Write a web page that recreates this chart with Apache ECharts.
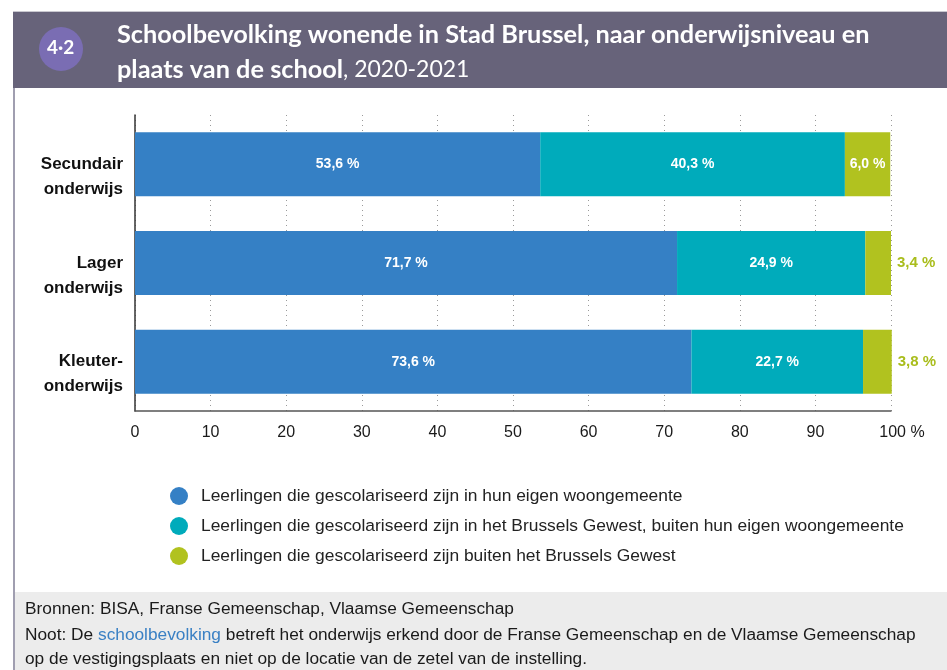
<!DOCTYPE html>
<html>
<head>
<meta charset="utf-8">
<script src="https://cdn.jsdelivr.net/npm/echarts@6/dist/echarts.min.js"></script>
<style>
  html, body { margin: 0; padding: 0; background: #fff; }
  #main { width: 947px; height: 670px; }
</style>
</head>
<body>
<div id="main"></div>
<script>
// niveaus (van boven naar onder)
var categories = ['Secundair\nonderwijs', 'Lager\nonderwijs', 'Kleuter-\nonderwijs'];
var seriesNames = [
    'Leerlingen die gescolariseerd zijn in hun eigen woongemeente',
    'Leerlingen die gescolariseerd zijn in het Brussels Gewest, buiten hun eigen woongemeente',
    'Leerlingen die gescolariseerd zijn buiten het Brussels Gewest'
];
var eigenGemeente = [53.6, 71.7, 73.6];
var brusselsGewest = [40.3, 24.9, 22.7];
var buitenGewest = [6.0, 3.4, 3.8];
var xTicks = [0, 10, 20, 30, 40, 50, 60, 70, 80, 90, 100];

var kleuren = ['#3580c5', '#00abbb', '#b1c21f'];
var groen = '#a9bd1c';
var fontTxt = '"Liberation Sans", Arial, sans-serif';
var fontKop = 'Lato, "Noto Sans", sans-serif';

var fmt = function (v) {
    return v.toFixed(1).replace('.', ',') + ' %';
};

// kleine waarden krijgen het label buiten de balk
var maakData = function (values) {
    return values.map(function (v) {
        if (v < 5) {
            return {
                value: v,
                label: { position: 'right', distance: 6, color: groen, fontSize: 15 }
            };
        }
        return v;
    });
};

var maakSerie = function (idx, values) {
    return {
        name: seriesNames[idx],
        type: 'bar',
        stack: 'totaal',
        barWidth: 64,
        clip: false,
        itemStyle: { color: kleuren[idx] },
        label: {
            show: true,
            position: 'inside',
            color: '#fff',
            fontFamily: fontTxt,
            fontWeight: 'bold',
            fontSize: 14,
            formatter: function (p) { return fmt(p.value); }
        },
        data: maakData(values)
    };
};

var myChart = echarts.init(document.getElementById('main'), null, { renderer: 'canvas' });

myChart.setOption({
    backgroundColor: '#fff',
    animation: false,
    color: kleuren,
    grid: { left: 135, right: 56, top: 115, bottom: 259 },
    xAxis: {
        type: 'value',
        min: 0,
        max: 100,
        interval: 10,
        axisLine: { show: true, lineStyle: { color: '#555', width: 1.5 } },
        axisTick: { show: false },
        splitLine: { show: true, lineStyle: { color: '#9a9a9a', type: [1, 4], width: 1 } },
        axisLabel: {
            margin: 14,
            color: '#1a1a1a',
            fontFamily: fontTxt,
            fontSize: 16,
            formatter: function (v) {
                if (xTicks.indexOf(v) < 0) return '';
                return v === 100 ? '{s|}100 %' : String(v);
            },
            rich: { s: { width: 22 } }
        }
    },
    yAxis: {
        type: 'category',
        inverse: true,
        data: categories,
        axisLine: { show: true, lineStyle: { color: '#333', width: 1.5 } },
        axisTick: { show: false },
        axisLabel: {
            margin: 12,
            color: '#111',
            fontFamily: fontTxt,
            fontWeight: 'bold',
            fontSize: 17,
            lineHeight: 25,
            align: 'right',
            // tekstblok iets onder het midden van de balk, zoals in het origineel
            formatter: function (v) { return '\n' + v; }
        }
    },
    legend: {
        orient: 'vertical',
        left: 165,
        top: 482,
        icon: 'circle',
        itemWidth: 18,
        itemHeight: 18,
        itemGap: 12,
        selectedMode: false,
        textStyle: {
            color: '#222',
            fontFamily: fontTxt,
            fontSize: 17.4,
            padding: [0, 0, 0, 8]
        },
        data: seriesNames
    },
    series: [
        maakSerie(0, eigenGemeente),
        maakSerie(1, brusselsGewest),
        maakSerie(2, buitenGewest)
    ],
    graphic: [
        // kop
        { type: 'rect', shape: { x: 13, y: 11, width: 940, height: 1 }, style: { fill: '#c9c8d0' }, silent: true },
        { type: 'rect', shape: { x: 13, y: 12, width: 940, height: 76 }, style: { fill: '#67637a' }, silent: true },
        { type: 'circle', shape: { cx: 61, cy: 49, r: 22 }, style: { fill: '#7a6db3' }, silent: true },
        {
            type: 'text', left: 47, top: 38, silent: true,
            style: { text: '4·2', fill: '#fff', font: 'bold 19px ' + fontKop }
        },
        {
            type: 'text', left: 117, top: 22, silent: true,
            style: {
                text: 'Schoolbevolking wonende in Stad Brussel, naar onderwijsniveau en',
                fill: '#fff', font: 'bold 25.3px ' + fontKop
            }
        },
        {
            type: 'text', left: 117, top: 57, silent: true,
            style: {
                text: '{b|plaats van de school}{r|, 2020-2021}',
                fill: '#fff',
                rich: {
                    b: { fill: '#fff', fontFamily: fontKop, fontWeight: 'bold', fontSize: 25.3 },
                    r: { fill: '#fff', fontFamily: fontKop, fontWeight: 'normal', fontSize: 23 }
                }
            }
        },
        // linkerrand
        { type: 'rect', shape: { x: 13, y: 88, width: 2, height: 582 }, style: { fill: '#a09eb0' }, silent: true },
        // voetnoot
        { type: 'rect', shape: { x: 15, y: 592, width: 932, height: 78 }, style: { fill: '#ececec' }, silent: true },
        {
            type: 'text', left: 25, top: 601, silent: true,
            style: { text: 'Bronnen: BISA, Franse Gemeenschap, Vlaamse Gemeenschap', fill: '#1a1a1a', font: '17.3px ' + fontTxt }
        },
        {
            type: 'text', left: 25, top: 627, silent: true,
            style: {
                text: '{n|Noot: De }{l|schoolbevolking}{n| betreft het onderwijs erkend door de Franse Gemeenschap en de Vlaamse Gemeenschap}',
                rich: {
                    n: { fill: '#1a1a1a', fontFamily: fontTxt, fontSize: 17.3 },
                    l: { fill: '#3a80c4', fontFamily: fontTxt, fontSize: 17.3 }
                }
            }
        },
        {
            type: 'text', left: 25, top: 651, silent: true,
            style: { text: 'op de vestigingsplaats en niet op de locatie van de zetel van de instelling.', fill: '#1a1a1a', font: '17.3px ' + fontTxt }
        }
    ]
});
</script>
</body>
</html>
